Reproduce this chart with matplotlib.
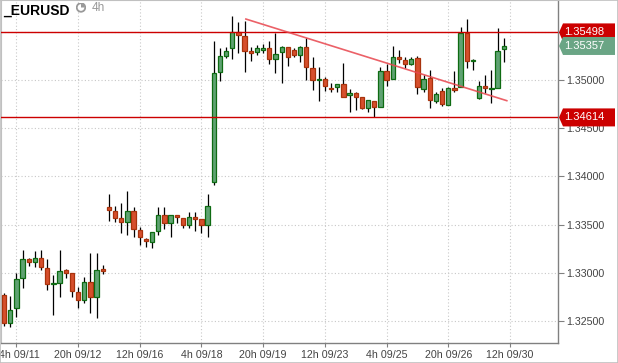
import numpy as np
import matplotlib
matplotlib.use("Agg")
import matplotlib.pyplot as plt
from matplotlib.patches import Rectangle, Polygon, Circle, Wedge
from matplotlib.transforms import IdentityTransform, ScaledTranslation

# =========================
# DATA (EURUSD, 4h candles)
# =========================
opens = [1.32767, 1.32476, 1.32632, 1.32944, 1.33141, 1.33110, 1.33152, 1.33048, 1.32881, 1.32892,
         1.33027, 1.32996, 1.32798, 1.32715, 1.32902, 1.32746, 1.33037, 1.33682, 1.33641, 1.33568,
         1.33526, 1.33641, 1.33443, 1.33349, 1.33318, 1.33433, 1.33599, 1.33516, 1.33599, 1.33568,
         1.33495, 1.33578, 1.33557, 1.33495, 1.33942, 1.35086, 1.35253, 1.35336, 1.35502, 1.35461,
         1.35305, 1.35294, 1.35315, 1.35336, 1.35221, 1.35294, 1.35346, 1.35315, 1.35263, 1.35346,
         1.35128, 1.35003, 1.35013, 1.34920, 1.34930, 1.34961, 1.34847, 1.34868, 1.34826, 1.34712,
         1.34785, 1.34722, 1.35097, 1.35013, 1.35242, 1.35211, 1.35169, 1.35232, 1.34909, 1.35024,
         1.34785, 1.34889, 1.34743, 1.34920, 1.34930, 1.35492, 1.35201, 1.34816, 1.34941, 1.34909,
         1.34920, 1.35325]
highs = [1.32788, 1.32757, 1.32996, 1.33235, 1.33152, 1.33225, 1.33235, 1.33141, 1.32975, 1.33235,
         1.33037, 1.32996, 1.32850, 1.32954, 1.33204, 1.33204, 1.33079, 1.33817, 1.33693, 1.33724,
         1.33849, 1.33682, 1.33474, 1.33360, 1.33422, 1.33682, 1.33682, 1.33599, 1.33599, 1.33568,
         1.33630, 1.33630, 1.33557, 1.33817, 1.35409, 1.35336, 1.35346, 1.35669, 1.35606, 1.35617,
         1.35346, 1.35367, 1.35377, 1.35409, 1.35492, 1.35357, 1.35346, 1.35336, 1.35357, 1.35440,
         1.35242, 1.35138, 1.35034, 1.34972, 1.34961, 1.35180, 1.34909, 1.34878, 1.34826, 1.34795,
         1.34785, 1.35138, 1.35169, 1.35357, 1.35315, 1.35242, 1.35242, 1.35253, 1.35055, 1.35107,
         1.34878, 1.34920, 1.34930, 1.35097, 1.35554, 1.35637, 1.35221, 1.34993, 1.35055, 1.35107,
         1.35544, 1.35440]
lows = [1.32445, 1.32434, 1.32538, 1.32840, 1.33069, 1.33058, 1.33027, 1.32819, 1.32559, 1.32746,
        1.32944, 1.32746, 1.32632, 1.32684, 1.32580, 1.32528, 1.32985, 1.33537, 1.33526, 1.33412,
        1.33391, 1.33370, 1.33287, 1.33266, 1.33256, 1.33391, 1.33453, 1.33370, 1.33516, 1.33464,
        1.33464, 1.33433, 1.33412, 1.33370, 1.33911, 1.34993, 1.35232, 1.35221, 1.35284, 1.35086,
        1.35201, 1.35263, 1.35284, 1.35169, 1.35076, 1.34972, 1.35149, 1.35242, 1.35190, 1.35003,
        1.34899, 1.34785, 1.34889, 1.34878, 1.34878, 1.34826, 1.34670, 1.34691, 1.34701, 1.34670,
        1.34618, 1.34722, 1.34941, 1.35013, 1.35180, 1.35128, 1.35159, 1.34857, 1.34878, 1.34712,
        1.34764, 1.34733, 1.34743, 1.34878, 1.34930, 1.35128, 1.35107, 1.34805, 1.34868, 1.34764,
        1.34920, 1.35190]
closes = [1.32476, 1.32611, 1.32933, 1.33141, 1.33110, 1.33152, 1.33058, 1.32881, 1.32892, 1.33017,
          1.32996, 1.32809, 1.32715, 1.32902, 1.32746, 1.33027, 1.33017, 1.33651, 1.33568, 1.33526,
          1.33641, 1.33453, 1.33370, 1.33329, 1.33422, 1.33599, 1.33516, 1.33599, 1.33578, 1.33495,
          1.33578, 1.33557, 1.33495, 1.33693, 1.35076, 1.35253, 1.35305, 1.35502, 1.35471, 1.35305,
          1.35284, 1.35336, 1.35336, 1.35221, 1.35273, 1.35346, 1.35242, 1.35263, 1.35346, 1.35138,
          1.35003, 1.35013, 1.34941, 1.34909, 1.34961, 1.34826, 1.34868, 1.34826, 1.34712, 1.34795,
          1.34722, 1.35097, 1.35003, 1.35242, 1.35221, 1.35169, 1.35221, 1.34930, 1.35013, 1.34795,
          1.34857, 1.34753, 1.34920, 1.34899, 1.35492, 1.35201, 1.35211, 1.34941, 1.34920, 1.34920,
          1.35305, 1.35357]

tick_idx = [2, 12, 22, 32, 42, 52, 62, 72, 82]
tick_labels = ["4h 09/11", "20h 09/12", "12h 09/16", "4h 09/18", "20h 09/19",
               "12h 09/23", "4h 09/25", "20h 09/26", "12h 09/30"]
price_ticks = [1.325, 1.330, 1.335, 1.340, 1.345, 1.350, 1.355]

level_top = 1.35498
level_bottom = 1.34614
last_price = closes[-1]
trend_x = [39.2, 81.5]
trend_y = [1.35637, 1.34788]

SYMBOL = "_EURUSD"
TIMEFRAME = "4h"

# =========================
# STYLE
# =========================
W, H = 618, 363
UP_FILL, UP_EDGE = "#5fa272", "#0e6b12"
DN_FILL, DN_EDGE = "#d64f2c", "#a8330d"
LEVEL_RED = "#cc0000"
LABEL_GREEN = "#6aa585"
GRID = "#c8c8c8"
AXIS_GRAY = "#808080"
TXT = "#444444"

plt.rcParams["font.family"] = ["Liberation Sans", "DejaVu Sans"]

fig = plt.figure(figsize=(W / 100, H / 100), dpi=100)
fig.patch.set_facecolor("white")
ax = fig.add_axes([1 / W, (H - 343) / H, 557 / W, 343 / H])
ax.set_facecolor("white")

n = len(opens)
xs = np.arange(n)
body_w = 0.7

for i in range(n):
    o, h, l, c = opens[i], highs[i], lows[i], closes[i]
    up = c >= o
    ax.vlines(xs[i], l, h, color="black", lw=0.9, zorder=3)
    bot = min(o, c)
    hgt = max(abs(c - o), 0.00012)
    ax.add_patch(Rectangle((xs[i] - body_w / 2, bot), body_w, hgt,
                           facecolor=UP_FILL if up else DN_FILL,
                           edgecolor=UP_EDGE if up else DN_EDGE,
                           lw=0.9, zorder=4))

ax.axhline(level_top, color=LEVEL_RED, lw=1.0, zorder=5)
ax.axhline(level_bottom, color=LEVEL_RED, lw=1.0, zorder=5)
ax.plot(trend_x, trend_y, color="#e8454d", lw=1.2, alpha=0.85, zorder=6)

ax.set_xlim(-0.5, 89.8)
ax.set_ylim(1.32268, 1.35835)

ax.set_xticks(tick_idx)
ax.set_xticklabels(tick_labels)
ax.set_yticks(price_ticks)
# the 1.35500 label sits under the price tag in the original, so it is left blank
ax.set_yticklabels([f"{p:.5f}" if p < 1.355 else "" for p in price_ticks])
ax.yaxis.tick_right()
ax.tick_params(axis="x", direction="out", length=3, width=0.8, color=AXIS_GRAY,
               labelsize=7.7, labelcolor=TXT, pad=2)
ax.tick_params(axis="y", direction="out", length=4, width=0.8, color=AXIS_GRAY,
               labelsize=7.7, labelcolor=TXT, pad=2)
ax.grid(True, color=GRID, lw=0.8, linestyle=(0, (1, 2)))
ax.set_axisbelow(True)

# first date label is pushed right so it starts at the chart edge
first = ax.get_xticklabels()[0]
first.set_transform(first.get_transform() + ScaledTranslation(0.03, 0, fig.dpi_scale_trans))

for s in ["left", "top"]:
    ax.spines[s].set_color("#c0c0c0")
for s in ["bottom", "right"]:
    ax.spines[s].set_color(AXIS_GRAY)
    ax.spines[s].set_linewidth(1.0)

# figure frame
fig.add_artist(Rectangle((0, 0), 1, 1, transform=fig.transFigure, fill=False,
                         edgecolor="#c0c0c0", lw=1.2, zorder=10))

# price tags on the right axis
def price_tag(price, color, text):
    y = ax.transData.transform((0, price))[1]
    x_tip = ax.transAxes.transform((1, 0))[0] + 1
    half = 9
    pts = [(x_tip, y), (x_tip + 4, y + half), (W - 3, y + half),
           (W - 3, y - half), (x_tip + 4, y - half)]
    fig.add_artist(Polygon(pts, closed=True, transform=IdentityTransform(),
                           facecolor=color, edgecolor="none", zorder=8))
    fig.text((x_tip + 5) / W, y / H, text, color="white", fontsize=8.0,
             ha="left", va="center", zorder=9)

price_tag(level_top, LEVEL_RED, f"{level_top:.5f}")
price_tag(last_price, LABEL_GREEN, f"{last_price:.5f}")
price_tag(level_bottom, LEVEL_RED, f"{level_bottom:.5f}")

# title + timeframe
fig.text(3 / W, 1 - 15 / H, SYMBOL, fontsize=10, fontweight="bold",
         color="black", ha="left", va="baseline", zorder=9)
icon = fig.add_axes([76 / W, 1 - 12.5 / H, 10 / W, 10 / H])
icon.set_xlim(-1, 1)
icon.set_ylim(-1, 1)
icon.set_aspect("equal")
icon.axis("off")
icon.add_patch(Circle((0, 0), 0.85, facecolor="white", edgecolor="#999999", lw=1.3))
icon.add_patch(Wedge((0, 0), 0.75, 0, 90, facecolor="#999999", edgecolor="none"))
fig.text(92 / W, 1 - 11 / H, TIMEFRAME, fontsize=8.5, color="#999999",
         ha="left", va="baseline", zorder=9)

fig.savefig("out.png", dpi=100)
plt.close(fig)
